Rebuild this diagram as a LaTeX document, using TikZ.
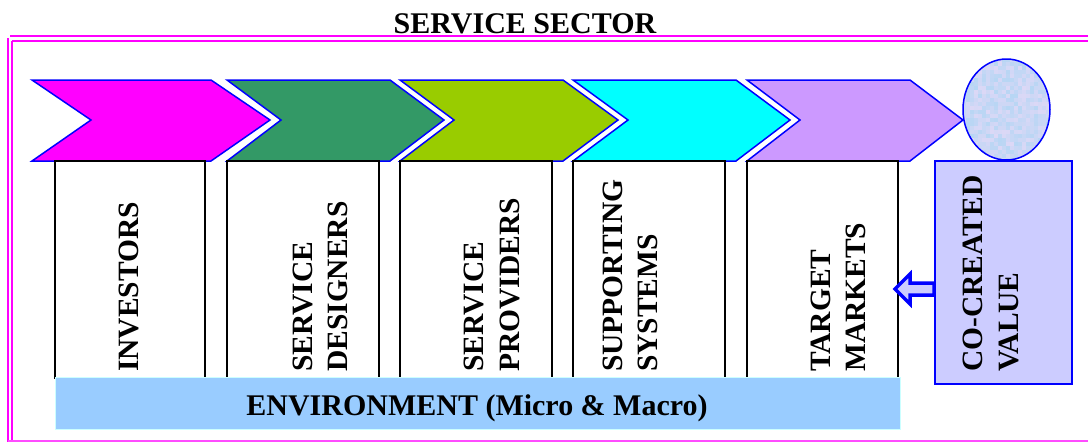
\documentclass[tikz,border=0pt]{standalone}
\usepackage{fontspec}
\setmainfont{Liberation Serif}
\begin{document}
\definecolor{frame}{HTML}{FF00FF}
\definecolor{invc}{HTML}{FF00FF}
\definecolor{desc}{HTML}{339966}
\definecolor{provc}{HTML}{99CC00}
\definecolor{supc}{HTML}{00FFFF}
\definecolor{tarc}{HTML}{CC99FF}
\definecolor{envc}{HTML}{99CCFF}
\definecolor{envline}{HTML}{CCFFFF}
\definecolor{valc}{HTML}{CCCCFF}
\definecolor{globeA}{HTML}{B6D6F4}
\definecolor{globeB}{HTML}{DCD8F6}
\begin{tikzpicture}[x=1pt,y=-1pt,
  frameline/.style={draw=frame,line width=1.8pt},
  chevron/.style={draw=blue,line width=1.5pt,line join=miter},
  column/.style={draw=black,line width=1.2pt,fill=white},
  vlabel/.style={rotate=90,anchor=base west,inner sep=0pt,font=\bfseries\fontsize{29.5}{35}\selectfont},
  hlabel/.style={anchor=base,inner sep=0pt,font=\bfseries\fontsize{30}{35}\selectfont}]
\useasboundingbox (0,0) rectangle (1088,442);

% title
\node[hlabel] (title) at (525,33) {SERVICE SECTOR};

% double frame round the sector
\draw[frameline] (10,36) -- (1088,36);
\draw[frameline] (12,41) -- (1088,41);
\draw[frameline] (8,38) -- (8,442);
\draw[frameline] (12,41) -- (12,442);
\draw[draw=frame!70,line width=1.2pt] (8,441) -- (1088,441);

% value chain chevrons
\draw[chevron,fill=invc]  (32,80) -- (211,80) -- (270,120) -- (211,161) -- (32,161) -- (91,120) -- cycle;
\draw[chevron,fill=desc]  (227,80) -- (390,80) -- (444,120) -- (390,161) -- (227,161) -- (281,120) -- cycle;
\draw[chevron,fill=provc] (400,80) -- (563,80) -- (618,120) -- (563,161) -- (400,161) -- (454,120) -- cycle;
\draw[chevron,fill=supc]  (573,80) -- (736,80) -- (790,120) -- (736,161) -- (573,161) -- (628,120) -- cycle;
\draw[chevron,fill=tarc]  (747,80) -- (910,80) -- (963,120) -- (910,161) -- (747,161) -- (800,120) -- cycle;

% globe at the end of the chain, with a mottled surface
\begin{scope}
  \clip (1006.5,109.5) ellipse [x radius=43.5,y radius=50.5];
  \pgfmathsetseed{7}
  \foreach \gx in {0,...,22} {
    \foreach \gy in {0,...,25} {
      \pgfmathtruncatemacro\mixp{100*rnd}
      \fill[globeA!\mixp!globeB] (962+4*\gx,58+4*\gy) rectangle ++(4.2,4.2);
    }
  }
\end{scope}
\draw[draw=blue,line width=1.5pt] (1006.5,109.5) ellipse [x radius=43.5,y radius=50.5];

% actor columns
\draw[column] (55,161) rectangle (205,378);
\draw[column] (227,161) rectangle (379,378);
\draw[column] (400,161) rectangle (552,378);
\draw[column] (573,161) rectangle (725,378);
\draw[column] (747,161) rectangle (898,378);

% environment bar
\draw[draw=envline,line width=0.8pt,fill=envc] (55,377) rectangle (900,429);
\node[hlabel] (env) at (477,415) {ENVIRONMENT (Micro \& Macro)};

% co-created value box
\draw[draw=blue,line width=1.5pt,fill=valc] (935,161) rectangle (1072,384);

% arrow from the value box to the target markets
\draw[draw=blue,line width=3.5pt,fill=valc,line join=miter]
  (895,289) -- (910,274) -- (910,283) -- (934,283) -- (934,295) -- (910,295) -- (910,304) -- cycle;

% column labels
\node[vlabel] (inv)  at (138,372) {INVESTORS};
\node[vlabel] (sd1)  at (312,372) {SERVICE};
\node[vlabel] (sd2)  at (347,372) {DESIGNERS};
\node[vlabel] (sp1)  at (483,372) {SERVICE};
\node[vlabel] (sp2)  at (519,372) {PROVIDERS};
\node[vlabel] (ss1)  at (622,372) {SUPPORTING};
\node[vlabel] (ss2)  at (657,372) {SYSTEMS};
\node[vlabel] (tm1)  at (830,372) {TARGET};
\node[vlabel] (tm2)  at (865,372) {MARKETS};
\node[vlabel] (cv1)  at (982,372) {CO-CREATED};
\node[vlabel] (cv2)  at (1018,372) {VALUE};
\end{tikzpicture}
\end{document}
